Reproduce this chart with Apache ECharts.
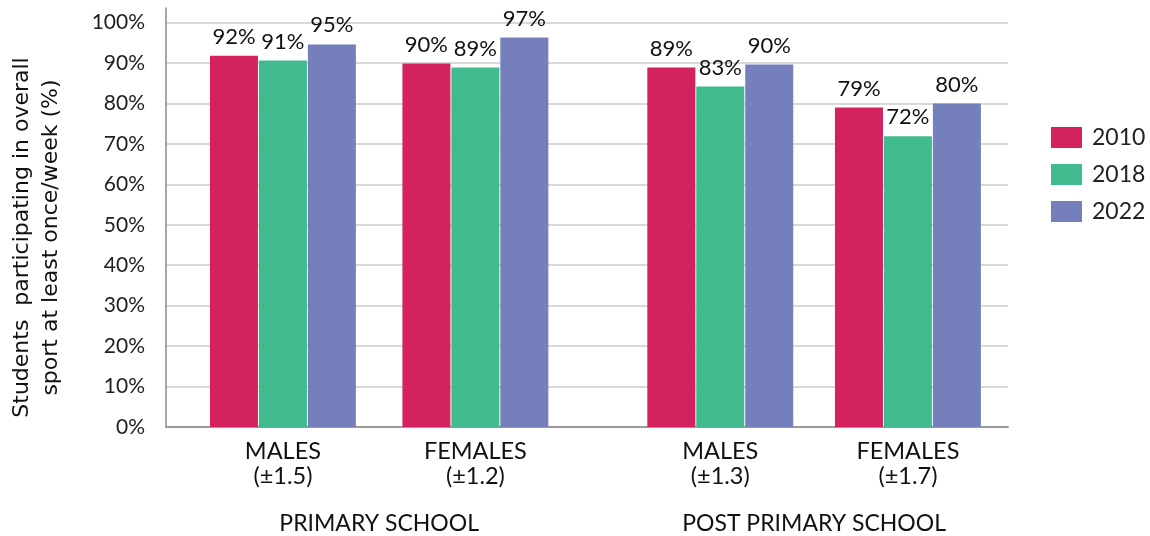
<!DOCTYPE html>
<html>
<head>
<meta charset="utf-8">
<script src="https://cdn.jsdelivr.net/npm/echarts@6/dist/echarts.min.js"></script>
<style>
  html, body { margin: 0; padding: 0; background: #fff; }
  #main { width: 1150px; height: 536px; }
</style>
</head>
<body>
<div id="main"></div>
<script>
  // groups along the x axis
  var groups = ['MALES\n(±1.5)', 'FEMALES\n(±1.2)', 'MALES\n(±1.3)', 'FEMALES\n(±1.7)']
  var schools = ['PRIMARY SCHOOL', 'POST PRIMARY SCHOOL']
  var years = ['2010', '2018', '2022']

  // bar heights (%)
  var v2010 = [91.8, 89.9, 88.9, 79.0]
  var v2018 = [90.6, 88.9, 84.2, 71.9]
  var v2022 = [94.6, 96.3, 89.6, 80.0]

  // printed labels
  var l2010 = ['92%', '90%', '89%', '79%']
  var l2018 = ['91%', '89%', '83%', '72%']
  var l2022 = ['95%', '97%', '90%', '80%']

  var yTicks = [0, 10, 20, 30, 40, 50, 60, 70, 80, 90, 100]

  // where each group sits on the (hidden) x scale, in bar-width units
  var groupX = [2.43, 6.43, 11.52, 15.42]
  var xSpan = 17.5
  var schoolX = [(groupX[0] + groupX[1]) / 2, (groupX[2] + groupX[3]) / 2]

  var colors = ['#d42260', '#41bb8e', '#747fbb']
  var values = [v2010, v2018, v2022]
  var labels = [l2010, l2018, l2022]
  var font = 'Lato, "Open Sans", sans-serif'

  var chart = echarts.init(document.getElementById('main'))

  var series = years.map(function (y, i) {
    return {
      name: y,
      type: 'bar',
      barWidth: 48,
      barGap: '2%',
      itemStyle: { color: colors[i] },
      label: {
        show: true,
        position: 'top',
        distance: 8,
        fontFamily: font,
        fontSize: 22,
        color: '#111',
        formatter: function (p) { return labels[i][p.dataIndex] }
      },
      data: values[i].map(function (v, k) { return [groupX[k], v] })
    }
  })

  chart.setOption({
    animation: false,
    textStyle: { fontFamily: font },
    color: colors,
    grid: { left: 163, right: 142, top: 8, bottom: 109 },
    legend: {
      orient: 'vertical',
      left: 1051,
      top: 126,
      padding: 0,
      itemWidth: 31,
      itemHeight: 21,
      itemGap: 14,
      icon: 'rect',
      textStyle: { fontFamily: font, fontSize: 23, color: '#222', padding: [0, 0, 0, 5] },
      data: years
    },
    xAxis: [{
      type: 'value',
      min: 0,
      max: xSpan,
      position: 'bottom',
      splitLine: { show: false },
      axisTick: { show: false },
      axisLine: { show: true, onZero: false, lineStyle: { color: '#9a9a9a', width: 2 } },
      axisLabel: {
        customValues: groupX,
        margin: 12,
        fontFamily: font,
        fontSize: 23.5,
        lineHeight: 25,
        color: '#111',
        formatter: function (v) { return groups[groupX.indexOf(v)] || '' }
      }
    }, {
      type: 'value',
      min: 0,
      max: xSpan,
      position: 'bottom',
      splitLine: { show: false },
      axisTick: { show: false },
      axisLine: { show: false },
      axisLabel: {
        customValues: schoolX,
        margin: 85,
        fontFamily: font,
        fontSize: 23,
        color: '#111',
        formatter: function (v) { return schools[schoolX.indexOf(v)] || '' }
      }
    }],
    yAxis: {
      type: 'value',
      min: 0,
      max: 103.6,
      interval: 10,
      name: 'Students  participating in overall\nsport at least once/week (%)',
      nameLocation: 'middle',
      nameRotate: 90,
      nameGap: 100,
      nameTextStyle: {
        fontFamily: '"DejaVu Sans", sans-serif',
        fontSize: 22,
        color: '#111',
        lineHeight: 29,
        padding: [0, 40, 0, 0]
      },
      axisLine: { show: true, lineStyle: { color: '#8a8a8a', width: 1.5 } },
      axisTick: { show: false },
      splitLine: { show: true, showMaxLine: false, lineStyle: { color: '#d9d9d9', width: 2 } },
      axisLabel: {
        showMaxLabel: false,
        margin: 21,
        fontFamily: font,
        fontSize: 21,
        color: '#222',
        formatter: function (v) { return yTicks.indexOf(v) >= 0 ? v + '%' : '' }
      }
    },
    series: series
  })
</script>
</body>
</html>
